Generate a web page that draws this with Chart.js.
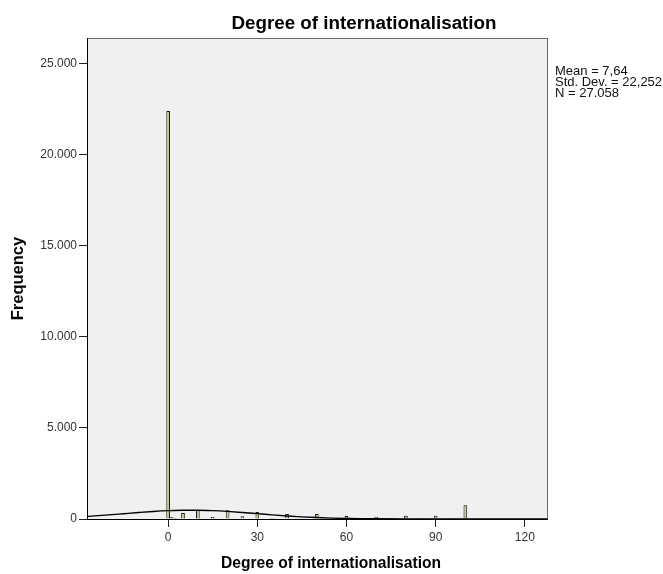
<!DOCTYPE html>
<html>
<head>
<meta charset="utf-8">
<script src="https://cdn.jsdelivr.net/npm/chart.js@4.4.1/dist/chart.umd.min.js"></script>
<style>
  html, body { margin: 0; padding: 0; background: #ffffff; }
  #wrap { width: 663px; height: 574px; position: relative; }
</style>
</head>
<body>
<div id="wrap"><canvas id="c" width="663" height="574"></canvas></div>
<script>
// ---- data ----
const chartTitle = "Degree of internationalisation";
const xAxisTitle = "Degree of internationalisation";
const yAxisTitle = "Frequency";
const statsLines = ["Mean = 7,64", "Std. Dev. = 22,252", "N = 27.058"];

const binCenters  = [0, 1, 2, 3, 5, 10, 15, 20, 25, 30, 35, 40, 45, 50, 55, 60, 65, 70, 75, 80, 85, 90, 95, 100];
const frequencies = [22400, 90, 70, 40, 330, 510, 110, 475, 150, 380, 50, 270, 40, 270, 40, 160, 40, 125, 50, 180, 50, 180, 60, 750];

const curveX = [-27, -20, -15, -10, -5, 0, 5, 10, 15, 20, 25, 30, 35, 40, 45, 50, 55, 60, 65, 70, 80, 90, 100, 110, 120, 128];
const curveY = [144, 224, 289, 354, 413, 457, 482, 482, 459, 416, 358, 293, 228, 168, 118, 79, 50, 30, 17, 10, 3, 1, 0, 0, 0, 0];

const xTicks = [0, 30, 60, 90, 120];
const yTicks = [0, 5000, 10000, 15000, 20000, 25000];
const xMin = -27.3, xMax = 127.8;
const yMin = 0, yMax = 26400;

// ---- build chart ----
const FONT = "'Liberation Sans', Arial, sans-serif";

function fmtThousands(v) {
  return String(v).replace(/\B(?=(\d{3})+(?!\d))/g, ".");
}

const decor = {
  id: 'decor',
  beforeDraw(chart) {
    const {ctx, chartArea: a} = chart;
    ctx.save();
    ctx.fillStyle = '#ffffff';
    ctx.fillRect(0, 0, chart.width, chart.height);
    ctx.fillStyle = '#f0f0f0';
    ctx.fillRect(a.left, a.top, a.right - a.left, a.bottom - a.top);
    ctx.restore();
  },
  afterDatasetsDraw(chart) {
    const {ctx, chartArea: a} = chart;
    ctx.save();
    ctx.strokeStyle = '#6a6a6a';
    ctx.lineWidth = 1;
    ctx.strokeRect(a.left + 0.5, a.top + 0.5, a.right - a.left - 1, a.bottom - a.top);
    ctx.strokeStyle = '#000000';
    ctx.beginPath();
    ctx.moveTo(a.left + 0.5, a.top);
    ctx.lineTo(a.left + 0.5, a.bottom + 0.5);
    ctx.lineTo(a.right, a.bottom + 0.5);
    ctx.stroke();
    ctx.restore();
  },
  afterDraw(chart) {
    const {ctx} = chart;
    ctx.save();
    ctx.fillStyle = '#000000';
    ctx.textAlign = 'center';
    ctx.textBaseline = 'alphabetic';
    ctx.font = "bold 18.8px " + FONT;
    ctx.fillText(chartTitle, 364, 29);
    ctx.font = "bold 15.6px " + FONT;
    ctx.fillText(xAxisTitle, 331, 568);
    ctx.textAlign = 'left';
    ctx.fillStyle = '#111111';
    ctx.font = "13px " + FONT;
    statsLines.forEach((t, i) => ctx.fillText(t, 555, 75 + i * 11));
    ctx.restore();
  }
};

const barData = binCenters.map((x, i) => ({x: x, y: frequencies[i]}));
const curveData = curveX.map((x, i) => ({x: x, y: curveY[i]}));

new Chart(document.getElementById('c'), {
  type: 'bar',
  data: {
    datasets: [
      {
        type: 'line',
        data: curveData,
        borderColor: '#000000',
        borderWidth: 1.4,
        pointRadius: 0,
        tension: 0.4,
        cubicInterpolationMode: 'monotone',
        fill: false,
        order: 0
      },
      {
        type: 'bar',
        data: barData,
        backgroundColor: '#c9c385',
        borderColor: '#1a1a1a',
        borderWidth: 1,
        borderSkipped: 'bottom',
        barPercentage: 1.25,
        categoryPercentage: 1,
        order: 1
      }
    ]
  },
  plugins: [decor],
  options: {
    responsive: false,
    animation: false,
    devicePixelRatio: 1,
    layout: { padding: { left: 0, right: 115, top: 38, bottom: 0 } },
    plugins: { legend: { display: false }, tooltip: { enabled: false }, title: { display: false } },
    scales: {
      x: {
        type: 'linear',
        min: xMin, max: xMax,
        offset: false,
        afterBuildTicks: s => { s.ticks = xTicks.map(v => ({value: v})); },
        afterFit: s => { s.height = 55; },
        grid: { offset: false, drawOnChartArea: false, drawTicks: true, tickLength: 8, color: '#222222', tickWidth: 1 },
        border: { display: false },
        ticks: { color: '#333333', font: { family: FONT, size: 12 }, padding: 3, maxRotation: 0, autoSkip: false,
                 callback: v => String(v) }
      },
      y: {
        type: 'linear',
        min: yMin, max: yMax,
        afterBuildTicks: s => { s.ticks = yTicks.map(v => ({value: v})); },
        afterFit: s => { s.width = 87; },
        grid: { drawOnChartArea: false, drawTicks: true, tickLength: 8, color: '#222222', tickWidth: 1 },
        border: { display: false },
        ticks: { color: '#333333', font: { family: FONT, size: 12 }, padding: 2, autoSkip: false,
                 callback: v => fmtThousands(v) },
        title: { display: true, text: yAxisTitle, color: '#000000', font: { family: FONT, size: 16.5, weight: 'bold' }, padding: { top: 9, bottom: 0 } }
      }
    }
  }
});
</script>
</body>
</html>
